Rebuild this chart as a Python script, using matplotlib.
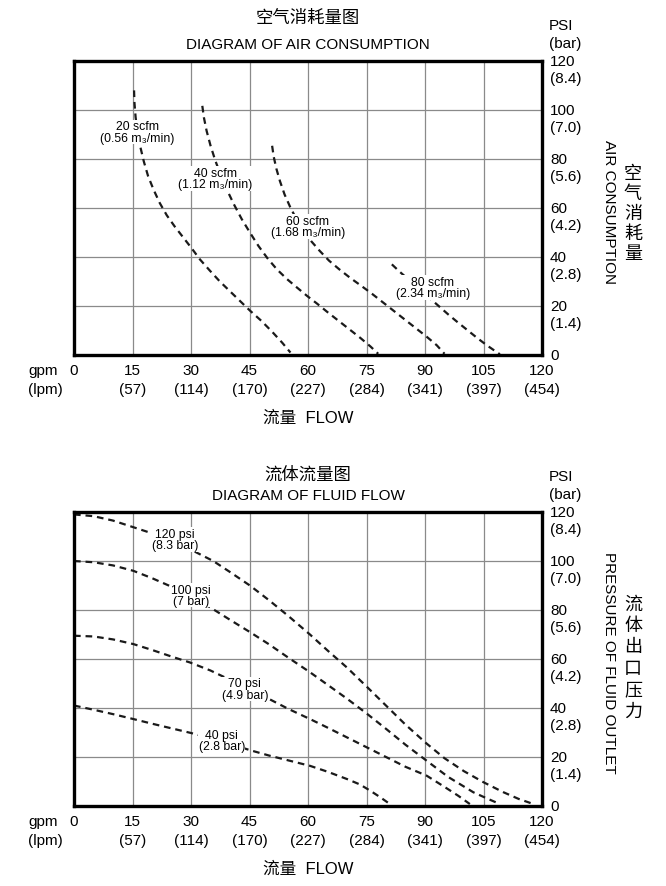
import matplotlib
matplotlib.use('Agg')
import matplotlib.pyplot as plt

plt.rcParams['font.family'] = ['Liberation Sans', 'Noto Sans CJK SC', 'DejaVu Sans']

# ---------------- data ----------------
gpm_ticks = [0, 15, 30, 45, 60, 75, 90, 105, 120]
lpm_labels = ['', '(57)', '(114)', '(170)', '(227)', '(284)', '(341)', '(397)', '(454)']
psi_ticks = [0, 20, 40, 60, 80, 100, 120]
bar_labels = ['', '(1.4)', '(2.8)', '(4.2)', '(5.6)', '(7.0)', '(8.4)']

# Air consumption curves (gpm, psi)
air20_x = [15.4, 15.5, 15.8, 16.3, 17.0, 17.9, 19.0, 20.4, 22.0, 23.8, 25.8, 28.0, 30.2, 32.3, 34.8, 37.4, 40.0, 42.6, 45.2, 48.0, 50.8, 53.4, 55.5]
air20_y = [108, 103, 97, 91, 85, 79, 73, 67.5, 62, 57, 52.5, 48, 43.5, 39, 34.5, 30, 26, 22, 18, 14, 9.5, 5, 1]
air40_x = [32.9, 33.3, 34.0, 35.0, 36.2, 37.6, 39.2, 41.0, 43.0, 45.1, 47.3, 49.6, 52.0, 54.6, 57.2, 59.7, 62.3, 65.0, 67.8, 70.6, 73.4, 76.0, 78.0]
air40_y = [101.7, 97, 91.5, 85.5, 79.5, 73.5, 67.5, 61.5, 55.5, 50, 44.5, 39.5, 35, 31, 27.5, 24.2, 21, 17.5, 14, 10.5, 7, 3.5, 0.5]
air60_x = [50.8, 51.2, 51.9, 52.8, 54.0, 55.4, 57.0, 58.8, 60.8, 63.0, 65.4, 68.0, 70.8, 73.6, 76.4, 79.2, 82.0, 84.8, 87.6, 90.4, 93.0, 95.0]
air60_y = [85.4, 81, 76, 71, 65.5, 60.5, 55.5, 51, 46.5, 42.5, 38.5, 35, 31.5, 28.3, 25, 21.5, 18, 14.5, 11, 7.5, 4, 0.5]
air80_x = [81.5, 83.5, 86.0, 88.5, 91.0, 93.5, 96.0, 98.5, 101.0, 103.5, 106.0, 108.0, 109.2]
air80_y = [37, 34, 30.5, 27, 23.5, 20, 16.5, 13.2, 10, 6.8, 3.8, 1.6, 0.3]
air_labels = ['20 scfm\n(0.56 m\u2083/min)', '40 scfm\n(1.12 m\u2083/min)',
              '60 scfm\n(1.68 m\u2083/min)', '80 scfm\n(2.34 m\u2083/min)']
air_label_pos = [(16.2, 91), (36.2, 72), (60.0, 52.5), (92.0, 27.5)]

# Fluid flow curves (gpm, psi)
flow120_x = [0, 5, 10, 15.2, 20, 25, 30, 35.7, 40, 45.1, 50, 55, 60.5, 65, 70, 75, 80, 85, 90.4, 95, 100, 105, 110, 114, 117.8]
flow120_y = [119, 118.3, 116.5, 113.8, 111.3, 108.3, 104.6, 100, 95.5, 90, 84, 77.5, 70, 63.5, 56.5, 48.8, 41, 33.2, 25.5, 19.5, 14.2, 9.7, 5.7, 2.9, 0.8]
flow100_x = [0, 5, 10, 15.2, 20, 25, 29.7, 35, 40, 45.1, 50, 55, 60.5, 65, 70, 75, 80, 85, 90.4, 96, 102.4, 106, 109.2]
flow100_y = [100, 99.5, 98.2, 96, 93, 89.5, 86, 81, 76, 71, 66, 60.5, 54.6, 49.5, 43.8, 37.8, 31.5, 25, 18.5, 11.8, 5.6, 3, 0.8]
flow70_x = [0, 5, 10, 15.2, 20, 25, 29.7, 35, 40, 44.3, 50, 55, 60.5, 65, 70, 75, 80, 85, 90.4, 95, 98.5, 101.5]
flow70_y = [69.5, 69.2, 68, 66.1, 63.7, 61, 58.6, 55.3, 51.5, 48, 43.7, 39.6, 35.5, 32, 28, 24, 20, 16, 12.4, 7.8, 4.2, 0.8]
flow40_x = [0, 5, 10, 15.2, 20, 25, 30, 35, 40, 45.1, 50, 55, 60.5, 65, 70, 73.3, 76, 78.5, 81]
flow40_y = [41, 39.3, 37.5, 35.5, 33.6, 31.7, 29.8, 27.7, 25.4, 22.8, 20.6, 18.6, 16.4, 14, 11, 8.8, 6.2, 3.6, 0.8]
flow_labels = ['120 psi\n(8.3 bar)', '100 psi\n(7 bar)', '70 psi\n(4.9 bar)', '40 psi\n(2.8 bar)']
flow_label_pos = [(25.9, 108.8), (30.0, 86.0), (43.8, 47.8), (37.9, 26.7)]

W, H = 666, 887
fig = plt.figure(figsize=(W / 100, H / 100), dpi=100)


def fx(px):
    return px / W


def fy(py):
    return 1 - py / H


LINE_KW = dict(color='#1a1a1a', lw=1.6, ls=(0, (3.0, 2.2)), zorder=3)
LABEL_KW = dict(ha='center', va='center', fontsize=8.8, linespacing=0.95, zorder=5,
                bbox=dict(facecolor='white', edgecolor='none', pad=0.3))


def setup_axes(top_px, title_cn, title_en, right_en, right_cn, cn_start, cn_step,
               cn_title_y):
    ax = fig.add_axes([fx(74), fy(top_px + 294), fx(468), 294 / H])
    ax.set_xlim(0, 120)
    ax.set_ylim(0, 120)
    ax.set_xticks(gpm_ticks)
    ax.set_yticks(psi_ticks)
    ax.set_xticklabels([])
    ax.set_yticklabels([])
    ax.tick_params(length=0)
    ax.grid(True, color='#8a8a8a', lw=0.9)
    ax.set_axisbelow(True)
    for s in ax.spines.values():
        s.set_linewidth(2.4)
        s.set_color('black')
        s.set_zorder(6)
    bottom_px = top_px + 294
    # x tick labels
    for v, l in zip(gpm_ticks, lpm_labels):
        ax.annotate(str(v), xy=(v, 0), xycoords=('data', 'axes fraction'),
                    xytext=(0, -15), textcoords='offset pixels',
                    ha='center', va='center', fontsize=11)
        if l:
            ax.annotate(l, xy=(v, 0), xycoords=('data', 'axes fraction'),
                        xytext=(0, -34), textcoords='offset pixels',
                        ha='center', va='center', fontsize=11)
    fig.text(fx(28), fy(bottom_px + 15), 'gpm', ha='left', va='center', fontsize=11)
    fig.text(fx(28), fy(bottom_px + 34), '(lpm)', ha='left', va='center', fontsize=11)
    # y tick labels on the right
    for v, l in zip(psi_ticks, bar_labels):
        ax.annotate(str(v), xy=(1, v), xycoords=('axes fraction', 'data'),
                    xytext=(8, 0), textcoords='offset pixels',
                    ha='left', va='center', fontsize=11)
        if l:
            ax.annotate(l, xy=(1, v), xycoords=('axes fraction', 'data'),
                        xytext=(8, -17), textcoords='offset pixels',
                        ha='left', va='center', fontsize=11)
    fig.text(fx(549), fy(top_px - 36), 'PSI', ha='left', va='center', fontsize=11)
    fig.text(fx(549), fy(top_px - 18), '(bar)', ha='left', va='center', fontsize=11)
    # titles
    fig.text(fx(308), fy(cn_title_y), title_cn, ha='center', va='center', fontsize=12.5)
    fig.text(fx(308), fy(top_px - 17), title_en, ha='center', va='center', fontsize=11)
    fig.text(fx(308), fy(bottom_px + 62), '流量  FLOW', ha='center', va='center', fontsize=12)
    # right axis titles
    fig.text(fx(609), fy(top_px + 150), right_en, ha='center', va='center',
             rotation=-90, fontsize=11)
    for i, ch in enumerate(right_cn):
        fig.text(fx(633), fy(cn_start + i * cn_step), ch, ha='center', va='center',
                 fontsize=13)
    return ax


ax1 = setup_axes(62, '空气消耗量图', 'DIAGRAM OF AIR CONSUMPTION', 'AIR CONSUMPTION',
                 '空气消耗量', 175, 20, 18)
for xs, ys in [(air20_x, air20_y), (air40_x, air40_y), (air60_x, air60_y), (air80_x, air80_y)]:
    ax1.plot(xs, ys, **LINE_KW)
for txt, (x, y) in zip(air_labels, air_label_pos):
    ax1.text(x, y, txt, **LABEL_KW)

ax2 = setup_axes(513, '流体流量图', 'DIAGRAM OF FLUID FLOW', 'PRESSURE OF FLUID OUTLET',
                 '流体出口压力', 605, 21.4, 475)
for xs, ys in [(flow120_x, flow120_y), (flow100_x, flow100_y), (flow70_x, flow70_y), (flow40_x, flow40_y)]:
    ax2.plot(xs, ys, **LINE_KW)
for txt, (x, y) in zip(flow_labels, flow_label_pos):
    ax2.text(x, y, txt, **LABEL_KW)

fig.savefig('out.png', dpi=100, facecolor='white')
